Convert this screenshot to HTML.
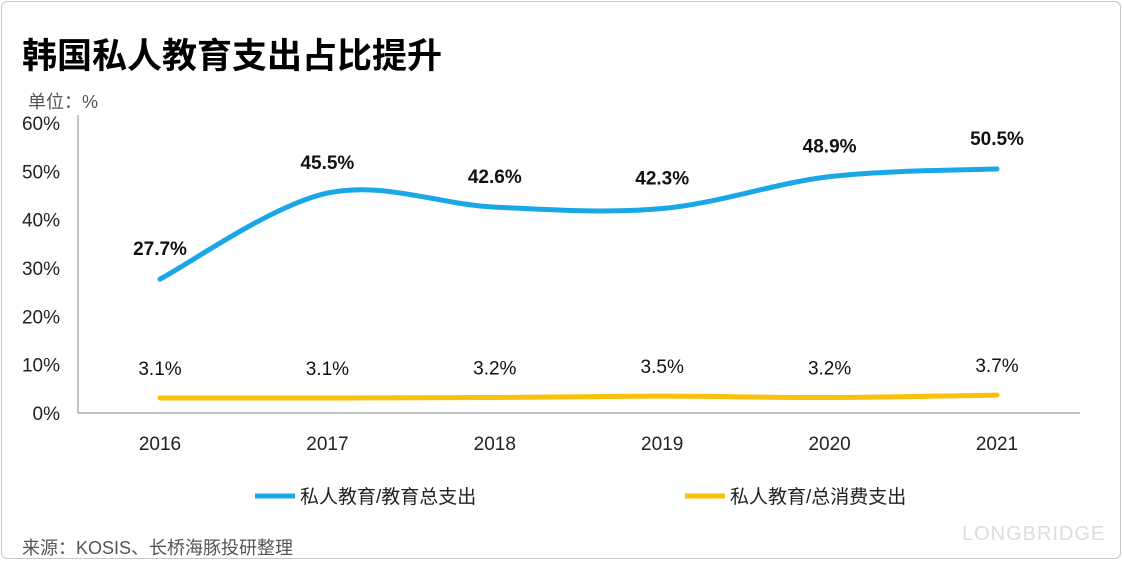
<!DOCTYPE html>
<html><head><meta charset="utf-8">
<style>
html,body{margin:0;padding:0;background:#fff;}
body{width:1124px;height:562px;overflow:hidden;font-family:"Liberation Sans","Noto Sans CJK SC",sans-serif;}
#frame{position:absolute;left:1px;top:1px;width:1120px;height:558px;border:1px solid #c8c8c8;border-radius:6px;box-sizing:border-box;}
svg{position:absolute;left:0;top:0;}
</style></head>
<body>
<div id="frame"></div>
<svg id="chart" width="1124" height="562">
<text x="22" y="68" font-size="35" font-weight="bold" fill="#000" font-family="Liberation Sans, Noto Sans CJK SC, sans-serif">韩国私人教育支出占比提升</text>
<text x="28" y="108" font-size="18" fill="#555" font-family="Liberation Sans, Noto Sans CJK SC, sans-serif">单位：%</text>
<text x="22" y="554" font-size="18" fill="#555" font-family="Liberation Sans, Noto Sans CJK SC, sans-serif">来源：KOSIS、长桥海豚投研整理</text>
<text x="962" y="540" font-size="20" fill="#ddd" letter-spacing="1">LONGBRIDGE</text>
<g id="plot"></g>
</svg>
<script>
const categories = ["2016","2017","2018","2019","2020","2021"];
const eduShare = [27.7,45.5,42.6,42.3,48.9,50.5];
const consShare = [3.1,3.1,3.2,3.5,3.2,3.7];
const yTicks = [0,10,20,30,40,50,60];
const seriesNames = ["私人教育/教育总支出","私人教育/总消费支出"];

const NS="http://www.w3.org/2000/svg";
const g=document.getElementById('plot');
const x0=78,x1=1080,yBase=413,yTop=123;
const xs=i=>160+i*167.4;
const ys=v=>yBase-(v/60)*(yBase-yTop);
function mk(t,a){const e=document.createElementNS(NS,t);for(const k in a)e.setAttribute(k,a[k]);g.appendChild(e);return e;}

const ya=mk('line',{x1:x0,y1:yTop-8,x2:x0,y2:yBase,stroke:'#888','stroke-width':1});


const xa=mk('line',{x1:x0,y1:yBase,x2:x1,y2:yBase,stroke:'#888','stroke-width':1});



yTicks.forEach(v=>{
  const t=mk('text',{x:60,y:ys(v)+7,'text-anchor':'end','font-size':19,fill:'#222'});
  t.textContent=v+'%';
  
  
});
categories.forEach((c,i)=>{
  const t=mk('text',{x:xs(i),y:450,'text-anchor':'middle','font-size':19,fill:'#222'});
  t.textContent=c;
  
  
});

function smooth(vals){
  const p=vals.map((v,i)=>[xs(i),ys(v)]);
  let d='M'+p[0][0]+','+p[0][1];
  for(let i=0;i<p.length-1;i++){
    const a=p[i-1]||p[i],b=p[i],c=p[i+1],e=p[i+2]||c;
    const c1=[b[0]+(c[0]-a[0])/6,b[1]+(c[1]-a[1])/6];
    const c2=[c[0]-(e[0]-b[0])/6,c[1]-(e[1]-b[1])/6];
    d+=` C${c1[0]},${c1[1]} ${c2[0]},${c2[1]} ${c[0]},${c[1]}`;
  }
  return d;
}
const l1=mk('path',{d:smooth(eduShare),fill:'none',stroke:'#1aa7e8','stroke-width':5,'stroke-linecap':'round'});


const l2=mk('path',{d:smooth(consShare),fill:'none',stroke:'#fbbf0a','stroke-width':5,'stroke-linecap':'round'});



eduShare.forEach((v,i)=>{
  const t=mk('text',{x:xs(i),y:ys(v)-24,'text-anchor':'middle','font-size':19,'font-weight':'bold',fill:'#111'});
  t.textContent=v.toFixed(1)+'%';
  
  
});
consShare.forEach((v,i)=>{
  const t=mk('text',{x:xs(i),y:ys(v)-23,'text-anchor':'middle','font-size':19,fill:'#111'});
  t.textContent=v.toFixed(1)+'%';
  
  
});

[[255,'#1aa7e8'],[685,'#fbbf0a']].forEach((L,k)=>{
  const ln=mk('line',{x1:L[0],y1:496,x2:L[0]+40,y2:496,stroke:L[1],'stroke-width':5});
  
  
  const t=mk('text',{x:L[0]+45,y:503,'font-size':19,fill:'#222'});
  t.textContent=seriesNames[k];
  
  
});
</script>
</body></html>
